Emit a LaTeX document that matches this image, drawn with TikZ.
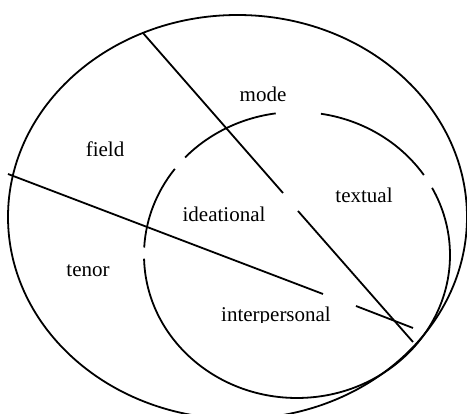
\documentclass[tikz,border=0pt]{standalone}
\usepackage{fontspec}
\setmainfont{Liberation Serif}
\begin{document}
\begin{tikzpicture}[x=1pt,y=1pt,
  ln/.style={line width=1.8pt,black},
  lbl/.style={anchor=base,inner sep=0pt,font=\fontsize{21}{25}\selectfont}]
\useasboundingbox (0,0) rectangle (467,414);
% outer ellipse
\draw[ln] (237.5,197) ellipse [x radius=229.5, y radius=202];
% inner ellipse with gaps
\coordinate (ic) at (297,159);
\draw[ln] ([shift={(98:153 and 143)}]ic) arc [start angle=98, end angle=137, x radius=153, y radius=143];
\draw[ln] ([shift={(143:153 and 143)}]ic) arc [start angle=143, end angle=177, x radius=153, y radius=143];
\draw[ln] ([shift={(181.5:153 and 143)}]ic) arc [start angle=181.5, end angle=388, x radius=153, y radius=143];
\draw[ln] ([shift={(394:153 and 143)}]ic) arc [start angle=394, end angle=441, x radius=153, y radius=143];
% dividing lines
\coordinate (a1) at (143,381); \coordinate (a2) at (283,221);
\coordinate (a3) at (298,203); \coordinate (a4) at (413,72);
\coordinate (b1) at (8,240);   \coordinate (b2) at (323,120);
\coordinate (b3) at (356,108); \coordinate (b4) at (413,86);
\draw[ln] (a1) -- (a2);
\draw[ln] (a3) -- (a4);
\draw[ln] (b1) -- (b2);
\draw[ln] (b3) -- (b4);
% labels
\node[lbl] (mode) at (263,312) {mode};
\node[lbl] (field) at (105,257) {field};
\node[lbl] (textual) at (364,211) {textual};
\node[lbl] (ideational) at (224,192) {ideational};
\node[lbl] (tenor) at (88,137) {tenor};
\begin{scope}
\clip (150,91) rectangle (400,130);
\node[lbl] (interpersonal) at (276,92) {interpersonal};
\end{scope}
\end{tikzpicture}
\end{document}
